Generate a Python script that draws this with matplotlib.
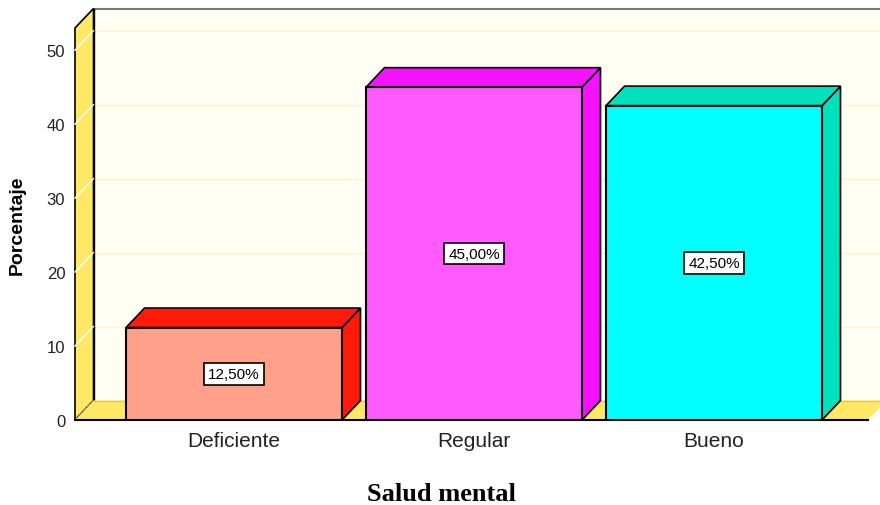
import matplotlib
matplotlib.use("Agg")
import matplotlib.pyplot as plt
from matplotlib.patches import Polygon, Rectangle

# data
categories = ["Deficiente", "Regular", "Bueno"]
percent = [12.5, 45.0, 42.5]
labels = ["12,50%", "45,00%", "42,50%"]
yticks = [0, 10, 20, 30, 40, 50]

front_colors = ["#FFA08A", "#FF5AFF", "#00FFFF"]
side_colors = ["#FF1A0A", "#F412FF", "#00E2BE"]
wall_color = "#FFE866"
back_color = "#FFFFF4"
grid_color = "#FFF4C4"

plt.rcParams["font.family"] = ["Liberation Sans", "DejaVu Sans"]

W, H = 880, 506
fig = plt.figure(figsize=(W / 100, H / 100), dpi=100)
fig.patch.set_facecolor("white")

# axes = front plane of the 3d box
left, right, bottom, top = 75, 868, 421, 29
ax = fig.add_axes([left / W, 1 - bottom / H, (right - left) / W, (bottom - top) / H])
ax.set_facecolor(back_color)
ax.set_ylim(0, 53)
ax.set_xlim(-0.6625, -0.6625 + (right - left) / 240)
for s in ax.spines.values():
    s.set_visible(False)

# depth offset in data units (about 18 px right, 19.5 px up)
x0, x1 = ax.get_xlim()
y0, y1 = ax.get_ylim()
dx = 18.5 * (x1 - x0) / (right - left)
dy = 19.5 * (y1 - y0) / (bottom - top)

# back wall
ax.add_patch(Rectangle((x0 + dx, y0 + dy), (x1 - x0) + dx, (y1 - y0), facecolor=back_color,
                       edgecolor="none", zorder=0, clip_on=False))
for v in yticks[1:]:
    ax.plot([x0 + dx, x1 + dx], [v + dy, v + dy], color=grid_color, lw=1, zorder=0.5, clip_on=False)
ax.plot([x0 + dx, x1 + 2 * dx], [y1 + dy, y1 + dy], color="#777777", lw=1.5, zorder=1, clip_on=False)
ax.plot([x0 + dx, x0 + dx], [y0 + dy, y1 + dy], color="black", lw=1, zorder=1, clip_on=False)

# left wall
ax.add_patch(Polygon([(x0, y0), (x0, y1), (x0 + dx, y1 + dy), (x0 + dx, y0 + dy)],
                     closed=True, facecolor=wall_color, edgecolor="black", lw=1.2,
                     zorder=1, clip_on=False))
for v in yticks[1:]:
    ax.plot([x0, x0 + dx], [v, v + dy], color="white", lw=1, zorder=1.1, clip_on=False)

# floor
ax.add_patch(Polygon([(x0, y0), (x1, y0), (x1 + dx, y0 + dy), (x0 + dx, y0 + dy)],
                     closed=True, facecolor=wall_color, edgecolor="none", zorder=1, clip_on=False))
ax.plot([x0 + dx, x1 + dx], [y0 + dy, y0 + dy], color="#E8C840", lw=1, zorder=1.1, clip_on=False)
ax.plot([x0, x0 + dx], [y0, y0 + dy], color="#C8A070", lw=0.8, ls="--", zorder=1.1, clip_on=False)
ax.plot([x0, x1], [y0, y0], color="black", lw=1.5, zorder=1.2, clip_on=False)

# bars
width = 0.9
for i, (v, fc, sc) in enumerate(zip(percent, front_colors, side_colors)):
    a, b = i - width / 2, i + width / 2
    ax.add_patch(Polygon([(b, 0), (b + dx, dy), (b + dx, v + dy), (b, v)], closed=True,
                         facecolor=sc, edgecolor="black", lw=1.2, zorder=3, clip_on=False))
    ax.add_patch(Polygon([(a, v), (b, v), (b + dx, v + dy), (a + dx, v + dy)], closed=True,
                         facecolor=sc, edgecolor="black", lw=1.2, zorder=3, clip_on=False))
ax.bar(range(len(categories)), percent, width=width, color=front_colors,
       edgecolor="black", linewidth=1.5, zorder=4)

for i, (v, lab) in enumerate(zip(percent, labels)):
    ax.text(i, v / 2, lab, ha="center", va="center", fontsize=11, zorder=5,
            bbox=dict(boxstyle="square,pad=0.25", facecolor="white", edgecolor="black", lw=1.2))

ax.set_yticks(yticks)
ax.set_yticklabels([str(t) for t in yticks], fontsize=12, color="#222222")
ax.set_xticks(range(len(categories)))
ax.set_xticklabels(categories, fontsize=15, color="#222222")
ax.tick_params(axis="y", length=0, pad=7)
ax.tick_params(axis="x", length=0, pad=8)

fig.text(17 / W, 1 - 225 / H, "Porcentaje", rotation=90, ha="center", va="center",
         fontsize=14, fontweight="bold")
fig.text(441 / W, 1 - 495 / H, "Salud mental", ha="center", va="center",
         fontsize=19, fontweight="bold", family="Liberation Serif")

fig.savefig("out.png", dpi=100)
